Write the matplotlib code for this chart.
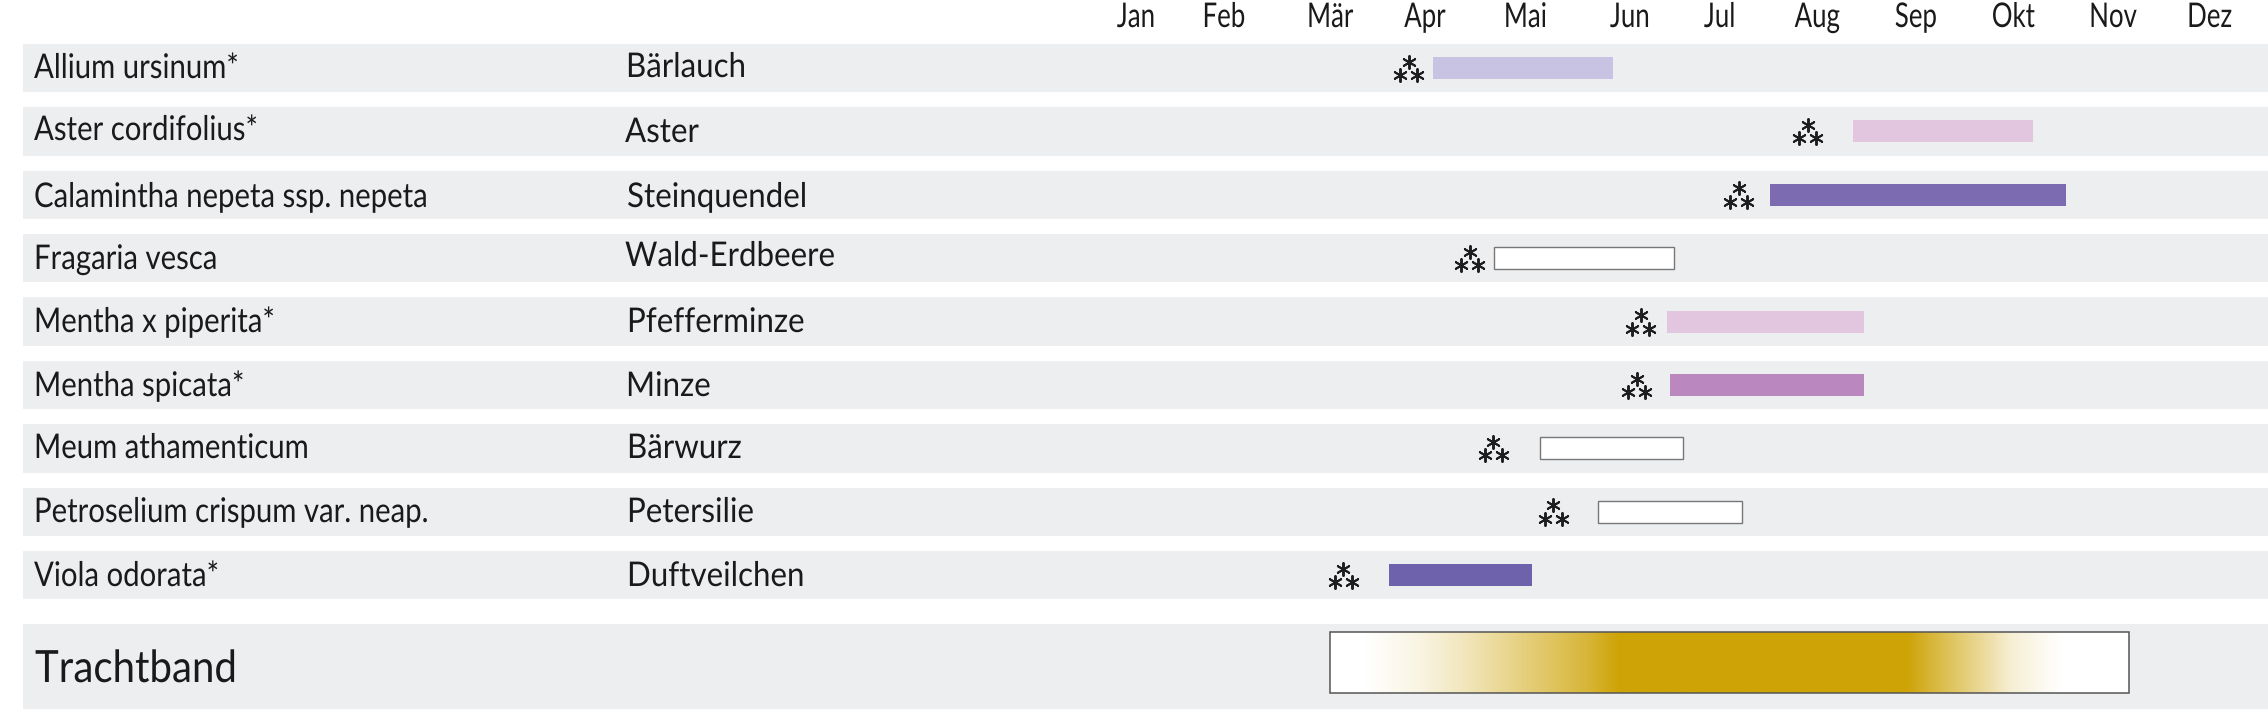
import numpy as np
import matplotlib
matplotlib.use("Agg")
import matplotlib.pyplot as plt
from matplotlib.colors import LinearSegmentedColormap
from matplotlib.patches import Rectangle
from matplotlib.patheffects import AbstractPathEffect
from matplotlib.transforms import Affine2D

# ---- data (x values in months, Jan = 0..1) ----
latin = ["Allium ursinum*", "Aster cordifolius*", "Calamintha nepeta ssp. nepeta",
         "Fragaria vesca", "Mentha x piperita*", "Mentha spicata*",
         "Meum athamenticum", "Petroselium crispum var. neap.", "Viola odorata*"]
german = ["Bärlauch", "Aster", "Steinquendel", "Wald-Erdbeere", "Pfefferminze",
          "Minze", "Bärwurz", "Petersilie", "Duftveilchen"]
bloom_start = [3.543, 7.846, 6.996, 4.168, 5.941, 5.971, 4.639, 5.234, 3.092]
bloom_end = [5.387, 9.691, 10.029, 6.012, 7.959, 7.959, 6.104, 6.709, 4.557]
sow_month = [3.297, 7.385, 6.678, 3.922, 5.674, 5.633, 4.158, 4.773, 2.621]
bar_colors = ["#C9C3E3", "#E2C6DF", "#7C6BB0", "#FFFFFF", "#E2C6DF",
              "#BA88BE", "#FFFFFF", "#FFFFFF", "#6F62AC"]
months = ["Jan", "Feb", "Mär", "Apr", "Mai", "Jun", "Jul", "Aug", "Sep", "Okt", "Nov", "Dez"]
month_ticks = [0.5, 1.40, 2.49, 3.46, 4.49, 5.56, 6.48, 7.48, 8.49, 9.49, 10.51, 11.50]
band_label = "Trachtband"
band_start, band_end = 2.49, 10.67
band_stops = [2.83, 3.42, 3.94, 4.54, 5.12, 5.45, 8.41, 8.65, 9.12, 9.48, 9.98]
band_level = [0, .12, .30, .55, .80, 1, 1, .80, .45, .17, 0]

# ---- layout in pixels ----
W, H = 2268, 709
PX_PER_MONTH = 97.6
ROW0, ROW_STEP = 68.0, 63.4
latin_x, german_x = [34] * 9, [626, 625, 627, 625, 627, 626, 627, 627, 627]
latin_base = [78, 140, 207, 269, 332, 396, 458, 522, 586]
german_base = [77, 142, 207, 266, 332, 396, 458, 522, 586]

plt.rcParams["font.family"] = ["Lato", "DejaVu Sans"]
TEXT = "#1A1A1A"
GREY = "#EDEEF0"
GOLD = "#CEA306"


class Condense(AbstractPathEffect):
    """Squeeze glyphs horizontally about a fixed display x."""
    def __init__(self, x0, sx):
        super().__init__()
        self.x0, self.sx = x0, sx

    def draw_path(self, renderer, gc, tpath, affine, rgbFace=None):
        t = affine + Affine2D().translate(-self.x0, 0).scale(self.sx, 1).translate(self.x0, 0)
        renderer.draw_path(gc, tpath, t, rgbFace)


fig = plt.figure(figsize=(W / 100, H / 100), dpi=100, facecolor="white")
ax = fig.add_axes([0, 0, 1, 1])
x_px0 = 0.5 - 1136 / PX_PER_MONTH
ax.set_xlim(x_px0, x_px0 + W / PX_PER_MONTH)
ax.set_ylim((H - ROW0) / ROW_STEP, -ROW0 / ROW_STEP)
for s in ax.spines.values():
    s.set_visible(False)
ax.yaxis.set_visible(False)
ax.patch.set_visible(False)

rows = np.arange(len(latin))
x_left = x_px0 + 23 / PX_PER_MONTH
x_right = x_px0 + W / PX_PER_MONTH

# background stripes
ax.barh(rows, x_right - x_left, left=x_left, height=48.5 / ROW_STEP, color=GREY, zorder=1)
band_top_y = (624 - ROW0) / ROW_STEP
band_bot_y = (H - ROW0) / ROW_STEP
ax.add_patch(Rectangle((x_left, band_top_y), x_right - x_left, band_bot_y - band_top_y,
                       facecolor=GREY, edgecolor="none", zorder=1))

# bloom bars
b_start = np.array(bloom_start)
b_end = np.array(bloom_end)
for r, a, b, c in zip(rows, b_start, b_end, bar_colors):
    outlined = c == "#FFFFFF"
    ax.barh(r, b - a, left=a, height=22 / ROW_STEP, color=c,
            edgecolor="#777777" if outlined else "none",
            linewidth=1.0 if outlined else 0, zorder=3)

# sowing marks: three asterisks
sow = np.array(sow_month)
dx = 8.5 / PX_PER_MONTH
top_dy, bot_dy = -6.5 / ROW_STEP, 7 / ROW_STEP
mk = dict(marker=(6, 2, 0), s=88, c="#1E1E1E", linewidths=1.4, zorder=4)
ax.scatter(sow, rows + top_dy, **mk)
ax.scatter(sow - dx, rows + bot_dy, **mk)
ax.scatter(sow + dx, rows + bot_dy, **mk)

# Trachtband gradient
span = band_end - band_start
pos = [0.0] + [(s - band_start) / span for s in band_stops] + [1.0]
lev = [0.0] + band_level + [0.0]
rgb_white = np.array([1, 1, 1.0])
rgb_gold = np.array(matplotlib.colors.to_rgb(GOLD))
cols = [tuple(rgb_white + (rgb_gold - rgb_white) * l) for l in lev]
cmap = LinearSegmentedColormap.from_list("tracht", list(zip(pos, cols)), N=512)
y0, y1 = (632 - ROW0) / ROW_STEP, (693 - ROW0) / ROW_STEP
ax.imshow(np.linspace(0, 1, 800)[None, :], extent=(band_start, band_end, y1, y0),
          aspect="auto", cmap=cmap, vmin=0, vmax=1, zorder=3, interpolation="bilinear")
ax.add_patch(Rectangle((band_start, y0), span, y1 - y0, fill=False,
                       edgecolor="#555555", linewidth=1.1, zorder=5))
x_lim = (x_px0, x_px0 + W / PX_PER_MONTH)
ax.set_xlim(*x_lim)
ax.set_ylim((H - ROW0) / ROW_STEP, -ROW0 / ROW_STEP)

# month ticks on top
ax.xaxis.tick_top()
ax.set_xticks(month_ticks)
ax.set_xticklabels(months)
ax.tick_params(axis="x", length=0, pad=-27 * 0.72, labelsize=24.5, labelcolor=TEXT)
for lab, t in zip(ax.get_xticklabels(), month_ticks):
    lab.set_va("baseline")
    lab.set_ha("center")
    lab.set_path_effects([Condense((t - x_px0) * PX_PER_MONTH, 0.76)])


def put(x, base, s, size, sx):
    t = fig.text(x / W, 1 - base / H, s, fontsize=size, color=TEXT, ha="left", va="baseline")
    t.set_path_effects([Condense(x, sx)])
    return t


for s, x, b in zip(latin, latin_x, latin_base):
    put(x, b, s, 24.5, 0.862)
for s, x, b in zip(german, german_x, german_base):
    put(x, b, s, 24.5, 0.92)
put(35, 682, band_label, 32, 0.905)

fig.savefig("out.png", dpi=100)
